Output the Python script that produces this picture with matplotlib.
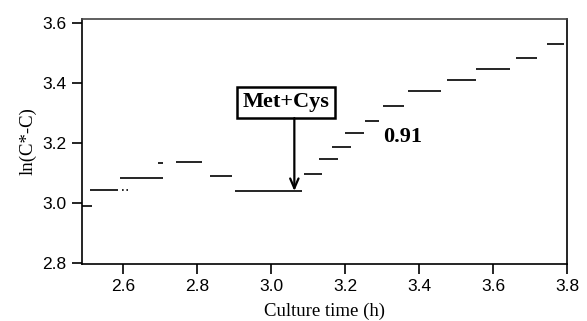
import matplotlib
matplotlib.use("Agg")
import matplotlib.pyplot as plt

# step segments: start time, end time, level
seg_start = [2.489, 2.511, 2.597, 2.592, 2.695, 2.744, 2.836, 2.903, 3.090, 3.131,
             3.166, 3.201, 3.255, 3.302, 3.369, 3.475, 3.553, 3.662, 3.746]
seg_end = [2.516, 2.586, 2.614, 2.708, 2.708, 2.814, 2.895, 3.085, 3.139, 3.180,
           3.215, 3.250, 3.293, 3.359, 3.459, 3.553, 3.645, 3.719, 3.792]
seg_level = [2.990, 3.043, 3.043, 3.083, 3.132, 3.138, 3.090, 3.040, 3.096, 3.147,
             3.188, 3.234, 3.274, 3.322, 3.373, 3.410, 3.446, 3.484, 3.529]
seg_style = ["-", "-", ":", "-", "-", "-", "-", "-", "-", "-",
             "-", "-", "-", "-", "-", "-", "-", "-", "-"]

x_ticks = [2.6, 2.8, 3.0, 3.2, 3.4, 3.6, 3.8]
y_ticks = [2.8, 3.0, 3.2, 3.4, 3.6]

event_label = "Met+Cys"
event_time = 3.063
event_level = 3.040
slope_label = "0.91"

fig = plt.figure(figsize=(5.87, 3.21), dpi=100)
ax = fig.add_axes([0.1397, 0.1776, 0.8262, 0.7632])

for x0, x1, yv, ls in zip(seg_start, seg_end, seg_level, seg_style):
    ax.hlines(yv, x0, x1, colors="black", linewidth=1.2, linestyles=ls)

ax.set_xlim(2.489, 3.8)
ax.set_ylim(2.797, 3.613)
ax.set_xticks(x_ticks)
ax.set_yticks(y_ticks)
ax.set_xticklabels([f"{v:.1f}" for v in x_ticks])
ax.set_yticklabels([f"{v:.1f}" for v in y_ticks])

for s in ax.spines.values():
    s.set_linewidth(1.2)
ax.spines["top"].set_color("#444444")
ax.tick_params(direction="out", length=7, width=1.2, labelsize=12.5, pad=4)
for lab in ax.get_xticklabels() + ax.get_yticklabels():
    lab.set_family(["Liberation Sans", "DejaVu Sans"])

ax.set_xlabel("Culture time (h)", family="Liberation Serif", fontsize=13.5, labelpad=6)
ax.set_ylabel("ln(C*-C)", family="Liberation Serif", fontsize=13.5, labelpad=4)

# boxed label with arrow pointing at the step
ax.text(3.041, 3.335, event_label, family="Liberation Serif", fontweight="bold",
        fontsize=16, ha="center", va="center",
        bbox=dict(boxstyle="square,pad=0.25", facecolor="white",
                  edgecolor="black", linewidth=1.8))
ax.annotate("", xy=(event_time, event_level), xytext=(event_time, 3.283),
            arrowprops=dict(arrowstyle="->,head_length=0.7,head_width=0.3",
                            color="black", linewidth=1.6, shrinkA=0, shrinkB=0))

ax.text(3.356, 3.22, slope_label, family="Liberation Serif", fontweight="bold",
        fontsize=16, ha="center", va="center")

fig.savefig("out.png", dpi=100)
